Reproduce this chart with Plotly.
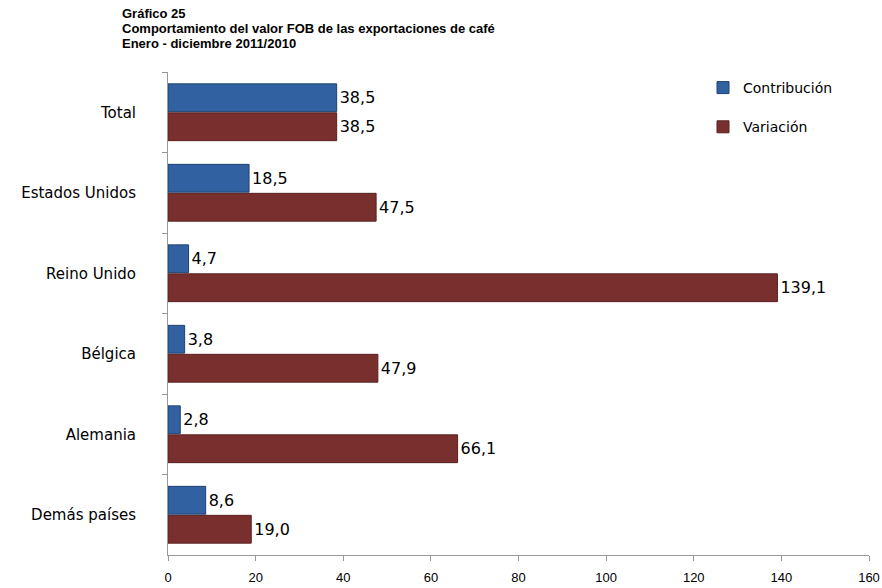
import plotly.graph_objects as go

categories = ["Total", "Estados Unidos", "Reino Unido", "Bélgica", "Alemania", "Demás países"]
contribucion = [38.5, 18.5, 4.7, 3.8, 2.8, 8.6]
variacion = [38.5, 47.5, 139.1, 47.9, 66.1, 19.0]
x_ticks = [0, 20, 40, 60, 80, 100, 120, 140, 160]
title_lines = ["Gráfico 25",
               "Comportamiento del valor FOB de las exportaciones de café",
               "Enero - diciembre 2011/2010"]

base_font = "Liberation Sans, Arial, sans-serif"
wide_font = "DejaVu Sans, Verdana, sans-serif"

W, H = 882, 588
ML, MR, MT, MB = 168, 13, 72, 33
plot_w = W - ML - MR
plot_h = H - MT - MB

fig = go.Figure()
fig.add_trace(go.Bar(
    y=categories, x=contribucion, orientation="h", name="Contribución",
    marker=dict(color="#3161a0", line=dict(color="#1f4272", width=1)),
    texttemplate="%{x:.1f}", textposition="outside", cliponaxis=False,
    textfont=dict(size=16, color="black", family=wide_font),
    legendgroup="a",
))
fig.add_trace(go.Bar(
    y=categories, x=variacion, orientation="h", name="Variación",
    marker=dict(color="#7a2f2f", line=dict(color="#5a2020", width=1)),
    texttemplate="%{x:.1f}", textposition="outside", cliponaxis=False,
    textfont=dict(size=16, color="black", family=wide_font),
    legendgroup="b",
))

for i, line in enumerate(title_lines):
    yc = 13 + i * 15.5
    fig.add_annotation(
        x=(120 - ML) / plot_w, xref="paper", xanchor="left",
        y=1 + (MT - yc) / plot_h, yref="paper", yanchor="middle",
        text="<b>" + line + "</b>", align="left",
        showarrow=False, font=dict(size=13, color="black", family=base_font),
    )

fig.update_layout(
    width=W, height=H,
    margin=dict(l=ML, r=MR, t=MT, b=MB, autoexpand=False),
    paper_bgcolor="white", plot_bgcolor="white",
    separators=",.",
    barmode="group", bargap=0.28, bargroupgap=0.04,
    font=dict(family=base_font, size=13, color="black"),
    legend=dict(
        x=(703 - ML) / plot_w, y=1.0, xanchor="left", yanchor="top",
        font=dict(size=14, family=wide_font),
        traceorder="grouped", tracegroupgap=18, itemwidth=30,
        bgcolor="rgba(0,0,0,0)",
    ),
    xaxis=dict(
        range=[0, 160], tickvals=x_ticks, showgrid=False, zeroline=False,
        showline=True, linecolor="#999999", linewidth=1,
        ticks="outside", ticklen=5, tickcolor="#999999",
        ticklabelstandoff=5,
        tickfont=dict(size=13, family=base_font), fixedrange=True,
    ),
    yaxis=dict(
        autorange="reversed", showticklabels=True, showgrid=False,
        showline=True, linecolor="#999999", linewidth=1,
        ticks="outside", ticklen=5, tickcolor="#999999", tickson="boundaries",
        ticklabelstandoff=28,
        tickfont=dict(size=15, family=wide_font, color="black"),
    ),
    showlegend=True,
)

fig.write_html("out.html", config={"displayModeBar": False},
               post_script="document.body.style.margin='0px';")
